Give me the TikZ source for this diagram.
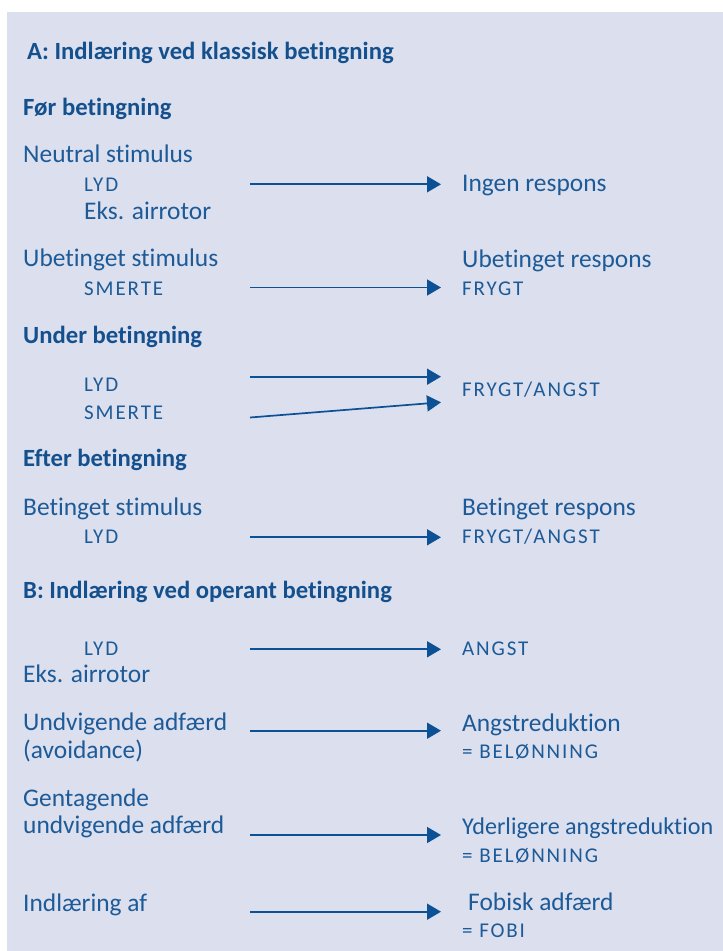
\documentclass[tikz,border=0pt]{standalone}
\usepackage{fontspec}
\setmainfont{Carlito}[Ligatures=NoCommon]
\newfontfamily\capsfont{Carlito}[LetterSpace=9,Ligatures=NoCommon]
\usetikzlibrary{arrows.meta}
\definecolor{bgblue}{RGB}{220,223,237}
\definecolor{txtblue}{RGB}{28,90,152}
\definecolor{headblue}{RGB}{20,80,142}
\definecolor{arrblue}{RGB}{12,80,150}
\tikzset{
  lbl/.style={anchor=base west, inner sep=0pt, text=txtblue, font=\fontsize{25.4}{28}\selectfont},
  capslbl/.style={anchor=base west, inner sep=0pt, text=txtblue, font=\capsfont\fontsize{21}{24}\selectfont},
  headlbl/.style={anchor=base west, inner sep=0pt, text=headblue, font=\bfseries\fontsize{24.7}{28}\selectfont},
  conn/.style={draw=arrblue, line width=1.7pt, -{Triangle[length=14pt,width=16pt]}},
}
\begin{document}
\begin{tikzpicture}[x=1pt,y=-1pt]
\useasboundingbox (0,0) rectangle (723,951);
\fill[bgblue] (7,12) rectangle (723,951);

% Section A
\node[headlbl] (hA) at (27,59.5) {A: Indlæring ved klassisk betingning};
\node[headlbl] (h1) at (23,115) {Før betingning};
\node[lbl] (ns) at (23,162.3) {Neutral stimulus};
\node[capslbl] (lyd1) at (84,191) {LYD};
\node[lbl] (eks1) at (84,219) {Eks. airrotor};
\node[lbl] (ingen) at (462,191.7) {Ingen respons};
\coordinate (a1s) at (250,184.3); \coordinate (a1e) at (441,184.3);
\draw[conn] (a1s) -- (a1e);

\node[lbl] (us) at (23,266.7) {Ubetinget stimulus};
\node[capslbl] (smerte1) at (84,295) {SMERTE};
\node[lbl] (ur) at (462,267.3) {Ubetinget respons};
\node[capslbl] (frygt) at (462,295.5) {FRYGT};
\coordinate (a2s) at (250,287.5); \coordinate (a2e) at (441,287.5);
\draw[conn] (a2s) -- (a2e);

\node[headlbl] (h2) at (23,343.3) {Under betingning};
\node[capslbl] (lyd2) at (84,391) {LYD};
\node[capslbl] (smerte2) at (84,419) {SMERTE};
\node[capslbl] (fa1) at (462,396.7) {FRYGT/ANGST};
\coordinate (a3s) at (250,376.7); \coordinate (a3e) at (441,376.7);
\draw[conn] (a3s) -- (a3e);
\coordinate (a4s) at (250,417.5); \coordinate (a4e) at (441,402.3);
\draw[conn] (a4s) -- (a4e);

\node[headlbl] (h3) at (23,466.7) {Efter betingning};
\node[lbl] (bs) at (23,515) {Betinget stimulus};
\node[capslbl] (lyd3) at (84,543.3) {LYD};
\node[lbl] (br) at (462,515) {Betinget respons};
\node[capslbl] (fa2) at (462,543.3) {FRYGT/ANGST};
\coordinate (a5s) at (250,537.3); \coordinate (a5e) at (441,537.3);
\draw[conn] (a5s) -- (a5e);

% Section B
\node[headlbl] (hB) at (23,598.3) {B: Indlæring ved operant betingning};
\node[capslbl] (lyd4) at (84,655) {LYD};
\node[lbl] (eks2) at (23,682.7) {Eks. airrotor};
\node[capslbl] (angst) at (462,655) {ANGST};
\coordinate (a6s) at (250,649.3); \coordinate (a6e) at (441,649.3);
\draw[conn] (a6s) -- (a6e);

\node[lbl] (ua) at (23,730) {Undvigende adfærd};
\node[lbl] (avo) at (23,758.3) {(avoidance)};
\node[lbl] (ared) at (462,731) {Angstreduktion};
\node[capslbl] (bel1) at (462,758.3) {= BELØNNING};
\coordinate (a7s) at (250,730.7); \coordinate (a7e) at (441,730.7);
\draw[conn] (a7s) -- (a7e);

\node[lbl] (gent) at (23,806) {Gentagende};
\node[lbl] (ua2) at (23,833.3) {undvigende adfærd};
\node[lbl, font=\fontsize{24.1}{28}\selectfont] (yder) at (462,834.7) {Yderligere angstreduktion};
\node[capslbl] (bel2) at (462,862.7) {= BELØNNING};
\coordinate (a8s) at (250,835); \coordinate (a8e) at (441,835);
\draw[conn] (a8s) -- (a8e);

\node[lbl] (indl) at (23,911) {Indlæring af};
\node[lbl] (fob) at (468,910) {Fobisk adfærd};
\node[capslbl] (fobi) at (462,937.7) {= FOBI};
\coordinate (a9s) at (250,911.7); \coordinate (a9e) at (441,911.7);
\draw[conn] (a9s) -- (a9e);
\end{tikzpicture}
\end{document}
